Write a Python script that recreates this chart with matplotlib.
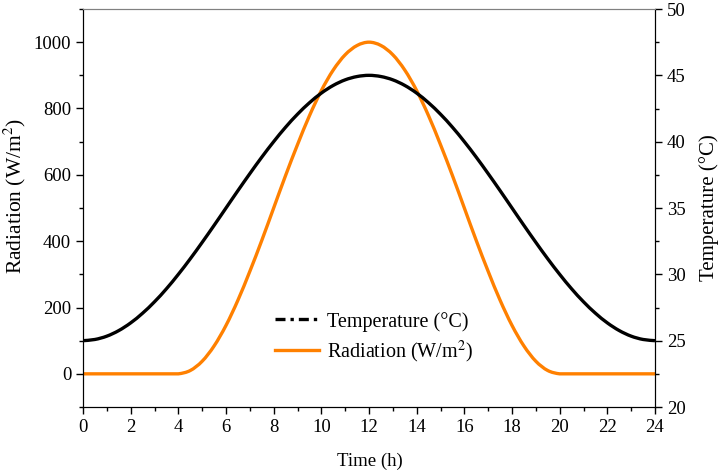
import matplotlib
matplotlib.use("Agg")
import matplotlib.pyplot as plt
from matplotlib.lines import Line2D
from matplotlib.path import Path
from matplotlib.patches import PathPatch
from matplotlib.ticker import MultipleLocator

plt.rcParams['font.family'] = ['Liberation Serif', 'DejaVu Serif']
plt.rcParams['mathtext.fontset'] = 'stix'

time_h = [0, 0.5, 1, 1.5, 2, 2.5, 3, 3.5, 4, 4.5, 5, 5.5, 6, 6.5, 7, 7.5, 8, 8.5, 9, 9.5,
          10, 10.5, 11, 11.5, 12, 12.5, 13, 13.5, 14, 14.5, 15, 15.5, 16, 16.5, 17, 17.5,
          18, 18.5, 19, 19.5, 20, 20.5, 21, 21.5, 22, 22.5, 23, 23.5, 24]

radiation = [0, 0, 0, 0, 0, 0, 0, 0, 0, 10, 38, 84, 146, 222, 309, 402, 500, 598, 691, 778,
             854, 916, 962, 990, 1000, 990, 962, 916, 854, 778, 691, 598, 500, 402, 309, 222,
             146, 84, 38, 10, 0, 0, 0, 0, 0, 0, 0, 0, 0]

temperature = [25.00, 25.09, 25.34, 25.76, 26.34, 27.07, 27.93, 28.91, 30.00, 31.17, 32.41,
               33.69, 35.00, 36.31, 37.59, 38.83, 40.00, 41.09, 42.07, 42.93, 43.66, 44.24,
               44.66, 44.91, 45.00, 44.91, 44.66, 44.24, 43.66, 42.93, 42.07, 41.09, 40.00,
               38.83, 37.59, 36.31, 35.00, 33.69, 32.41, 31.17, 30.00, 28.91, 27.93, 27.07,
               26.34, 25.76, 25.34, 25.09, 25.00]

x_ticks = list(range(0, 25, 2))
rad_ticks = [0, 200, 400, 600, 800, 1000]
temp_ticks = [20, 25, 30, 35, 40, 45, 50]

orange = '#FF8000'


def smooth_line(ax, xs, ys, **kw):
    """Draw the data points as a smooth curve (Catmull-Rom rendered as Bezier path)."""
    n = len(xs)
    verts = [(xs[0], ys[0])]
    codes = [Path.MOVETO]
    for i in range(n - 1):
        x0, y0 = (xs[i - 1], ys[i - 1]) if i > 0 else (xs[i], ys[i])
        x1, y1 = xs[i], ys[i]
        x2, y2 = xs[i + 1], ys[i + 1]
        x3, y3 = (xs[i + 2], ys[i + 2]) if i + 2 < n else (xs[i + 1], ys[i + 1])
        c1 = (x1 + (x2 - x0) / 6.0, y1 + (y2 - y0) / 6.0)
        c2 = (x2 - (x3 - x1) / 6.0, y2 - (y3 - y1) / 6.0)
        if y1 == y2 == 0:
            c1 = (c1[0], 0.0)
            c2 = (c2[0], 0.0)
        verts += [c1, c2, (x2, y2)]
        codes += [Path.CURVE4, Path.CURVE4, Path.CURVE4]
    patch = PathPatch(Path(verts, codes), facecolor='none', **kw)
    ax.add_patch(patch)
    return patch


fig = plt.figure(figsize=(7.2, 4.73), dpi=100)
ax = fig.add_axes([83/720, 1-407/473, (655-83)/720, (407-9)/473])
smooth_line(ax, time_h, radiation, edgecolor=orange, lw=2.4, joinstyle='round', capstyle='butt')
ax.set_xlim(0, 24)
ax.set_ylim(-100, 1100)
ax.set_xticks(x_ticks)
ax.set_yticks(rad_ticks)
ax.xaxis.set_minor_locator(MultipleLocator(1))
ax.yaxis.set_minor_locator(MultipleLocator(100))
ax.set_xlabel('Time (h)', fontsize=13.5)
ax.xaxis.set_label_coords(0.502, -0.115)
ax.set_ylabel('Radiation (W/m$^2$)', fontsize=15.5)
ax.yaxis.set_label_coords(-0.096, 0.53)
ax.tick_params(axis='both', which='major', direction='out', length=5, labelsize=13.5, width=1)
ax.tick_params(axis='both', which='minor', direction='out', length=3, width=1)
ax.spines['top'].set_color('#808080')

ax2 = ax.twinx()
smooth_line(ax2, time_h, temperature, edgecolor='black', lw=2.4, joinstyle='round', capstyle='butt')
ax2.set_ylim(20, 50)
ax2.set_yticks(temp_ticks)
ax2.yaxis.set_minor_locator(MultipleLocator(2.5))
ax2.set_ylabel('Temperature (°C)', fontsize=15)
ax2.yaxis.set_label_coords(1.077, 0.5)
ax2.tick_params(axis='y', which='major', direction='out', length=5, labelsize=13.5, width=1)
ax2.tick_params(axis='y', which='minor', direction='out', length=3, width=1)
ax2.spines['top'].set_color('#808080')

handles = [Line2D([], [], color='black', lw=2.4, linestyle=(0, (3, 1.5, 1, 1.5))),
           Line2D([], [], color=orange, lw=2.4)]
labels = ['Temperature (°C)', 'Radiation (W/m$^2$)']
ax2.legend(handles, labels, loc='center', bbox_to_anchor=(0.509, 0.173), frameon=False,
           fontsize=14.5, handlelength=2.2, handletextpad=0.4, labelspacing=0.35)

fig.savefig('out.png', dpi=100)
